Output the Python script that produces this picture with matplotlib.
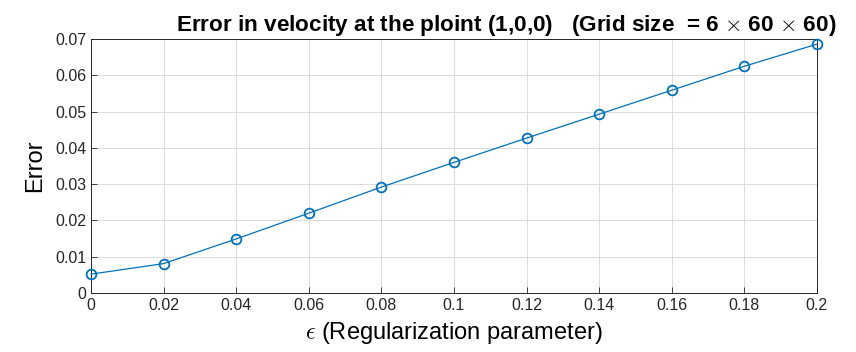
import matplotlib
matplotlib.use("Agg")
import matplotlib.pyplot as plt

# regularization parameter vs. velocity error
eps = [0, 0.02, 0.04, 0.06, 0.08, 0.10, 0.12, 0.14, 0.16, 0.18, 0.20]
err = [0.0052, 0.0081, 0.0149, 0.0220, 0.0292, 0.0360, 0.0427, 0.0493, 0.0559, 0.0625, 0.0686]

xticks = [0, 0.02, 0.04, 0.06, 0.08, 0.1, 0.12, 0.14, 0.16, 0.18, 0.2]
xticklabels = ["0", "0.02", "0.04", "0.06", "0.08", "0.1", "0.12", "0.14", "0.16", "0.18", "0.2"]
yticks = [0, 0.01, 0.02, 0.03, 0.04, 0.05, 0.06, 0.07]
yticklabels = ["0", "0.01", "0.02", "0.03", "0.04", "0.05", "0.06", "0.07"]

plt.rcParams['font.family'] = ['Liberation Sans', 'DejaVu Sans']
plt.rcParams['mathtext.fontset'] = 'cm'

fig = plt.figure(figsize=(8.56, 3.52), dpi=100)
ax = fig.add_axes([0.1063, 0.1676, 0.848, 0.7214])

ax.plot(eps, err, color='#0072BD', linewidth=0.9, marker='o', markersize=7,
        markerfacecolor='none', markeredgewidth=1.3, clip_on=False, zorder=3)

ax.set_xlim(0, 0.2)
ax.set_ylim(0, 0.07)
ax.set_xticks(xticks)
ax.set_xticklabels(xticklabels)
ax.set_yticks(yticks)
ax.set_yticklabels(yticklabels)
ax.tick_params(direction='in', length=4, width=0.6, colors='#262626',
               labelsize=11.5, top=False, right=False)
for s in ax.spines.values():
    s.set_color('#262626')
    s.set_linewidth(0.7)
ax.grid(True, color='#dcdcdc', linewidth=0.7)
ax.set_axisbelow(True)

ax.set_title(r"Error in velocity at the ploint (1,0,0)   (Grid size  = 6 $\times$ 60 $\times$ 60)",
             fontsize=16.2, fontweight='bold', pad=6, x=0.572)
ax.set_xlabel(r"$\epsilon$ (Regularization parameter)", fontsize=17, labelpad=5)
ax.set_ylabel("Error", fontsize=17, labelpad=6)

fig.savefig("out.png", dpi=100)
